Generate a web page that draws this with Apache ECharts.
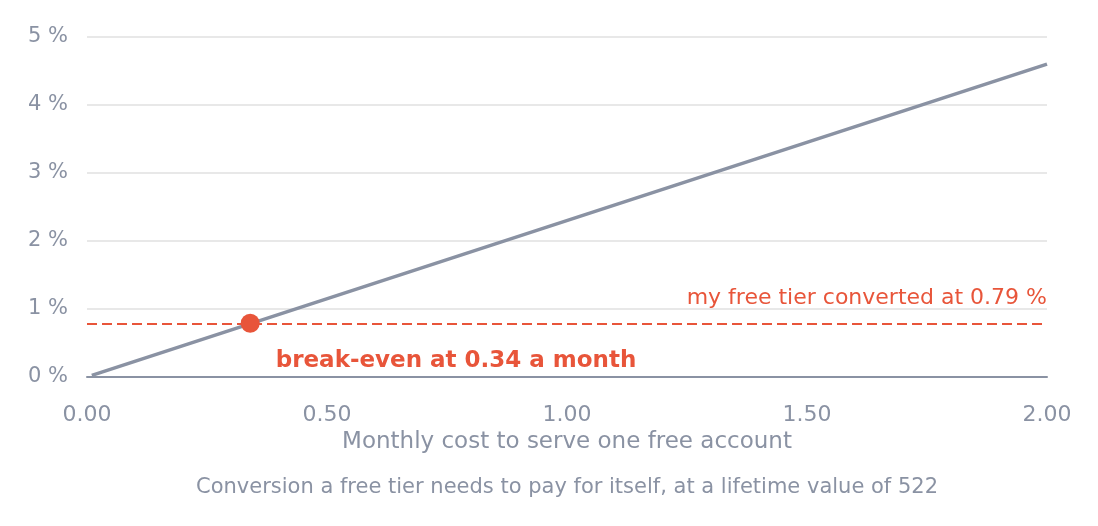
<!DOCTYPE html>
<html>
<head>
<meta charset="utf-8">
<script src="https://cdn.jsdelivr.net/npm/echarts@6/dist/echarts.min.js"></script>
<style>
  html, body { margin: 0; padding: 0; background: #fff; }
  #chart { width: 1098px; height: 526px; }
</style>
</head>
<body>
<div id="chart"></div>
<script>
// 数据
var costLine = [[0.01, 0.023], [2.0, 4.6]];   // 月成本 -> 需要的转化率 (%)
var breakEven = [[0.34, 0.79]];                // 盈亏平衡点
var actualRate = 0.79;                         // 实际转化率 (%)
var xTicks = [0, 0.5, 1, 1.5, 2];
var yTicks = [0, 1, 2, 3, 4, 5];

var grey = '#8a92a3';
var red = '#e8553a';
var font = 'DejaVu Sans';

var option = {
    animation: false,
    textStyle: { fontFamily: font },
    title: {
        text: 'Conversion a free tier needs to pay for itself, at a lifetime value of 522',
        left: 191,
        bottom: 23,
        textStyle: { color: grey, fontSize: 21, fontWeight: 'normal', fontFamily: font }
    },
    grid: { left: 87, right: 51, top: 37, bottom: 149 },
    xAxis: {
        type: 'value',
        min: xTicks[0],
        max: xTicks[xTicks.length - 1],
        interval: 0.5,
        name: 'Monthly cost to serve one free account',
        nameLocation: 'middle',
        nameGap: 54,
        nameTextStyle: { color: grey, fontSize: 23 },
        axisLine: { lineStyle: { color: grey, width: 2 } },
        axisTick: { show: false },
        splitLine: { show: false },
        axisLabel: {
            color: grey, fontSize: 22, margin: 27,
            formatter: function (v) { return v.toFixed(2); }
        }
    },
    yAxis: {
        type: 'value',
        min: yTicks[0],
        max: yTicks[yTicks.length - 1],
        interval: 1,
        axisLine: { show: false },
        axisTick: { show: false },
        splitLine: { lineStyle: { color: '#e8e8e8', width: 2 } },
        axisLabel: { color: grey, fontSize: 21, margin: 19, formatter: '{value} %' }
    },
    series: [
        {
            type: 'line',
            data: costLine,
            symbol: 'none',
            lineStyle: { color: grey, width: 3.5 },
            markLine: {
                silent: true,
                symbol: 'none',
                lineStyle: { color: red, type: [10, 5], width: 2 },
                label: {
                    position: 'insideEndTop',
                    formatter: 'my free tier converted at 0.79 %',
                    color: red, fontSize: 22, fontFamily: font,
                    distance: [0, 14]
                },
                data: [{ yAxis: actualRate }]
            }
        },
        {
            type: 'scatter',
            data: breakEven,
            symbolSize: 19,
            itemStyle: { color: red, opacity: 1 },
            z: 5,
            label: {
                show: true,
                position: 'right',
                offset: [11, 38],
                formatter: 'break-even at 0.34 a month',
                color: red, fontSize: 23, fontWeight: 'bold', fontFamily: font
            }
        }
    ]
};

var myChart = echarts.init(document.getElementById('chart'));
myChart.setOption(option, true);
</script>
</body>
</html>
